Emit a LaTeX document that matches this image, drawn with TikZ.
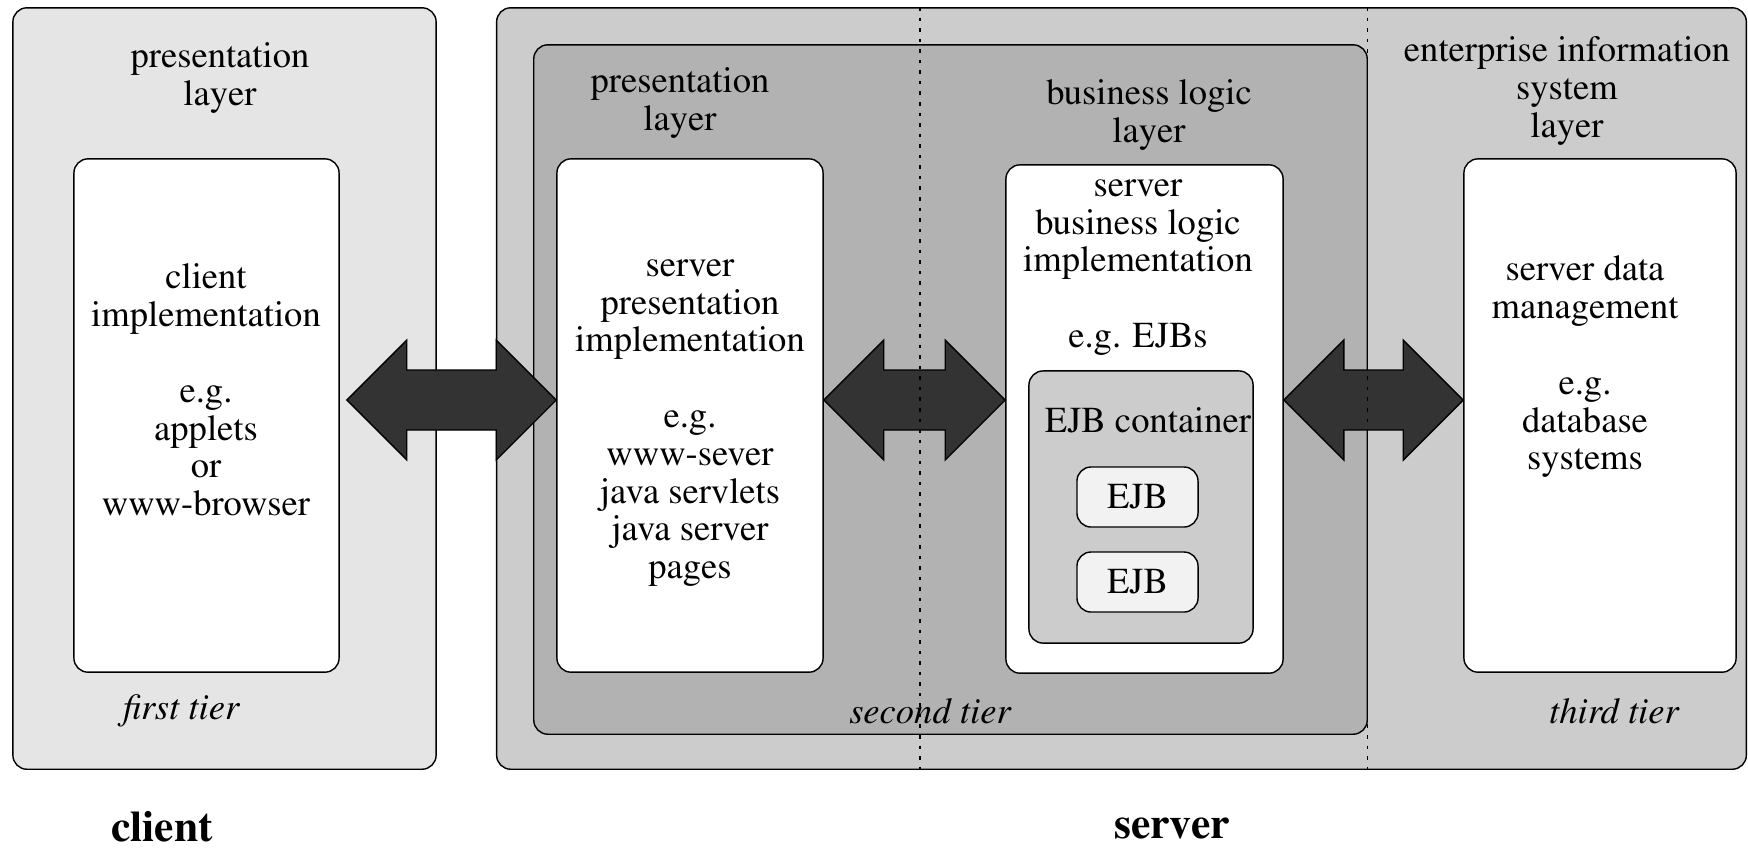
\documentclass[tikz,border=0pt]{standalone}
\usepackage[T1]{fontenc}
\usepackage{times}
\usetikzlibrary{calc}

\newcommand\dfont{\fontsize{10.4}{10.75}\selectfont}

\tikzset{
  tier/.style={draw, rounded corners=4pt, inner sep=0pt, line width=0.4pt},
  impl/.style={tier, fill=white},
  txt/.style={align=center, inner sep=0pt, font=\dfont},
  tiername/.style={inner sep=0pt, font=\dfont\itshape},
  side/.style={inner sep=0pt, font=\fontsize{12.4}{14}\selectfont\bfseries},
  bigarr/.style={draw, fill=black!80, line width=0.4pt},
  cut/.style={line width=0.3pt, dash pattern=on 1pt off 2pt}
}

% double block arrow between two layers, #3 = gap at the left tip
\newcommand\twoway[3]{%
  \draw[bigarr] ($(#1.east |- axis)+(#3,0)$) -- ++(60,-60) -- ++(0,30)
    -- ($(#2.west |- axis)+(-60,-30)$) -- ++(0,-30) -- (#2.west |- axis)
    -- ++(-60,60) -- ++(0,-30) -- ($(#1.east |- axis)+(60+#3,30)$)
    -- ++(0,30) -- cycle;}

\begin{document}
\begin{tikzpicture}[x=0.01cm, y=-0.01cm]
\useasboundingbox (0,0) rectangle (1748,847);

% tiers
\node[tier, fill=black!10, minimum width=4.23cm, minimum height=7.61cm] (cltier) at (224.5,388.5) {};
\node[tier, fill=black!20, minimum width=12.49cm, minimum height=7.61cm] (srv) at (1121.5,388.5) {};
\node[tier, fill=black!30, minimum width=8.33cm, minimum height=6.89cm] (sec) at (950.5,389.5) {};

% layers
\foreach \name/\cx/\cy/\w/\h in {cli/206.5/415.5/2.65/5.13, pres/690/415.5/2.66/5.13,
    biz/1144.5/419/2.77/5.08, eis/1600/415.5/2.72/5.13}
  \node[impl, minimum width=\w cm, minimum height=\h cm] (\name) at (\cx,\cy) {};

\node[tier, fill=black!20, minimum width=2.24cm, minimum height=2.72cm] (cont) at (1141,507) {};
\foreach \y [count=\n] in {497,582}
  \node[tier, fill=black!5, minimum width=1.21cm, minimum height=0.60cm, font=\dfont] (ejb\n) at (1137.5,\y) {EJB};

\coordinate (axis) at (0,400);
\foreach \a/\b/\g in {cli/pres/7, pres/biz/0, biz/eis/0}
  \twoway{\a}{\b}{\g};

% tier borders
\coordinate (cut1) at (920,0);
\draw[cut] (srv.north -| cut1) -- (srv.south -| cut1);
\draw[cut] (srv.north -| sec.east) -- (srv.south -| sec.east);

\node[txt] (cltitle) at (220,78) {presentation\\layer};
\node[txt] (clitxt) at (206,390) {client\\implementation\\[10.75pt]e.g.\\applets\\or\\www-browser};
\node[txt] (prestitle) at (680,103) {presentation\\layer};
\node[txt] (prestxt) at (690,423) {server\\presentation\\implementation\\[10.75pt]e.g.\\www-sever\\java servlets\\java server\\pages};
\node[txt] (biztitle) at (1149,115) {business logic\\layer};
\node[txt] (biztxt) at (1138,267.5) {server\\business logic\\implementation\\[10.75pt]e.g. EJBs};
\node[txt] (conttxt) at (1148,420) {EJB container};
\node[txt] (eistitle) at (1567,91) {enterprise information\\system\\layer};
\node[txt] (eistxt) at (1585,367) {server data\\management\\[10.75pt]e.g.\\database\\systems};

\node[tiername] (t1) at (181,711) {first tier};
\node[tiername] (t2) at (930,711) {second tier};
\node[tiername] (t3) at (1614,711) {third tier};

\node[side] (clientlbl) at (162,827) {client};
\node[side] (serverlbl) at (1172,829) {server};
\end{tikzpicture}
\end{document}
